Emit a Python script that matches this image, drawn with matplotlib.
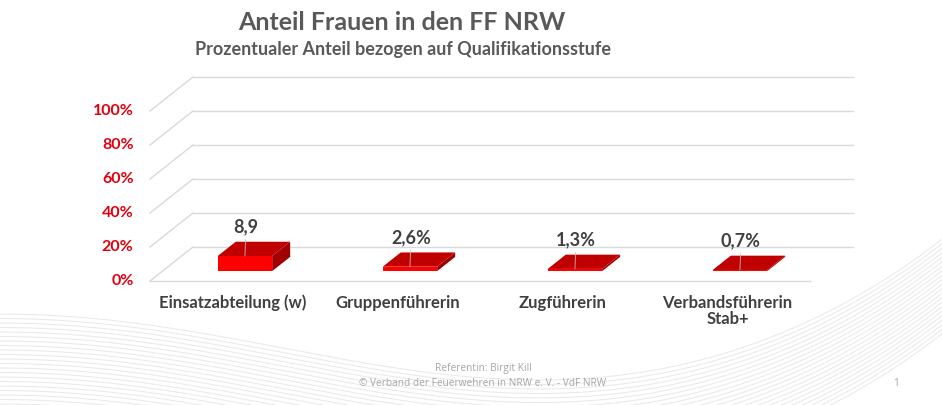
import matplotlib.pyplot as plt
from matplotlib.patches import Polygon
import numpy as np

plt.rcParams['font.family'] = ['Lato', 'DejaVu Sans']

# Daten
kategorien = ["Einsatzabteilung (w)", "Gruppenführerin", "Zugführerin", "Verbandsführerin\nStab+"]
anteile = [8.9, 2.6, 1.3, 0.7]
beschriftungen = ["8,9", "2,6%", "1,3%", "0,7%"]
y_werte = [0, 20, 40, 60, 80, 100]
y_texte = ["0%", "20%", "40%", "60%", "80%", "100%"]

# Perspektive: Versatz der Rückwand in x (Kategorien) und y (Prozent)
TIEFE_X = 0.26
TIEFE_Y = 20
BREITE = 0.33
D0, D1 = 0.29, 0.71

ROT = '#E0000F'
GRID = '#D9D9D9'
TEXT = '#404040'


def proj(x, v, d):
    return (x + TIEFE_X * d, v + TIEFE_Y * d)


fig = plt.figure(figsize=(9.42, 4.05), dpi=100)

# Hintergrund mit Wellenlinien
bg = fig.add_axes([0, 0, 1, 1])
bg.set_xlim(0, 942)
bg.set_ylim(405, 0)
bg.axis('off')
xs = np.linspace(0, 942, 300)
for k in range(22):
    y = 314 + 4.5 * k + 70 * np.sin(np.pi * xs / 1150) ** 2 - 95 * (xs / 942) ** 6
    bg.plot(xs, y, color='#E8E8E8', lw=0.7, zorder=0)

# Diagrammfläche
ax = fig.add_axes([0, 0, 1, 1])
ax.set_xlim(-150 / 165, 792 / 165)
ax.set_ylim(-124 / 1.7, 281 / 1.7)
ax.axis('off')

n = len(kategorien)
# Gitter: Seitenwand, Rückwand, Boden
for v in y_werte:
    x0, y0 = proj(0, v, 0)
    x1, y1 = proj(0, v, 1)
    ax.plot([x0, x1], [y0, y1], color=GRID, lw=1, zorder=1)
    xa, ya = proj(0, v, 1)
    xb, yb = proj(n, v, 1)
    ax.plot([xa, xb], [ya, yb], color=GRID, lw=1, zorder=1)
ax.plot([0, n], [0, 0], color=GRID, lw=1, zorder=1)

# Y-Beschriftung
for v, t in zip(y_werte, y_texte):
    ax.text(-0.1, v, t, ha='right', va='center', color=ROT,
            fontsize=11.5, fontweight='bold')

# 3D-Balken
for i, h in enumerate(anteile):
    c = i + 0.5
    l, r = c - BREITE / 2, c + BREITE / 2
    front = [proj(l, 0, D0), proj(r, 0, D0), proj(r, h, D0), proj(l, h, D0)]
    top = [proj(l, h, D0), proj(r, h, D0), proj(r, h, D1), proj(l, h, D1)]
    side = [proj(r, 0, D0), proj(r, 0, D1), proj(r, h, D1), proj(r, h, D0)]
    ax.add_patch(Polygon(side, closed=True, fc='#A00000', ec='none', zorder=3))
    ax.add_patch(Polygon(front, closed=True, fc='#FF0000', ec='none', zorder=3))
    ax.add_patch(Polygon(top, closed=True, fc='#C00000', ec='none', zorder=3))
    ax.annotate(beschriftungen[i], xy=proj(c, h, D0), xytext=(1, 29),
                textcoords='offset pixels', ha='center', va='center',
                fontsize=13, fontweight='bold', color=TEXT, zorder=5,
                arrowprops=dict(arrowstyle='-', color='#BFBFBF', lw=0.6,
                                shrinkA=1, shrinkB=0))
    ax.text(c, -8.0, kategorien[i], ha='center', va='top', fontsize=12,
            fontweight='bold', color=TEXT, linespacing=1.05)

# Titel
fig.text(402 / 942, 1 - 22 / 405, "Anteil Frauen in den FF NRW", ha='center',
         va='center', fontsize=18, fontweight='bold', color='#595959')
fig.text(403 / 942, 1 - 50 / 405, "Prozentualer Anteil bezogen auf Qualifikationsstufe",
         ha='center', va='center', fontsize=13, fontweight='bold', color='#595959')

# Fußzeile
fuss = dict(ha='center', va='center', fontsize=7.3, color='#A6A6A6',
            family=['Open Sans', 'DejaVu Sans'])
fig.text(483 / 942, 1 - 368 / 405, "Referentin: Birgit Kill", **fuss)
fig.text(483 / 942, 1 - 383 / 405, "© Verband der Feuerwehren in NRW e. V. - VdF NRW", **fuss)
fig.text(896 / 942, 1 - 383 / 405, "1", **fuss)

fig.savefig('out.png', dpi=100)
